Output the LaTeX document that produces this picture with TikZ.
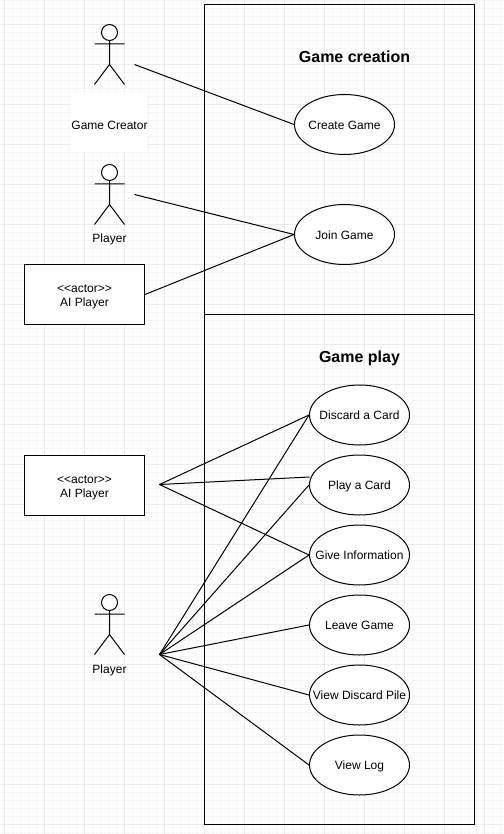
\documentclass[tikz,border=0pt]{standalone}
\usepackage{fontspec}
\setmainfont{Liberation Sans}
\usetikzlibrary{shapes.geometric}
\definecolor{gridminor}{HTML}{F6F6F6}
\definecolor{gridmajor}{HTML}{EBEBEB}
\tikzset{
  line/.style={draw=black,line width=0.75pt},
  usecase/.style={line,ellipse,fill=white,minimum width=75pt,minimum height=45pt,inner sep=0pt,font=\fontsize{9}{11}\selectfont},
  actorbox/.style={line,rectangle,fill=white,minimum width=90pt,minimum height=45pt,inner sep=0pt,align=center,font=\fontsize{9}{10.5}\selectfont},
  boundary/.style={line,rectangle,inner sep=0pt},
  title/.style={font=\fontsize{12}{14}\selectfont\bfseries,inner sep=0pt,text height=8.6pt,text depth=0pt},
  lbl/.style={font=\fontsize{9}{11}\selectfont,inner sep=0pt,text height=6.5pt,text depth=0pt},
  head/.style={line,circle,minimum size=12pt,inner sep=0pt,fill=white},
  conn/.style={line},
}
\newcommand{\uctext}[1]{\makebox[0pt]{\smash{\raisebox{-3.6pt}{#1}}}}
\newcommand{\stickman}[3]{% name, x, head y
  \node[head] (#1) at (#2,#3) {};
  \draw[line] (#1.south) -- (#2,#3+32)
     (#2-15,#3+11.5) -- (#2+15,#3+11.5)
     (#2-15,#3+52) -- (#2,#3+32) -- (#2+15,#3+52);
}
\begin{document}
\begin{tikzpicture}[x=0.75pt,y=-0.75pt]
\useasboundingbox (0,0) rectangle (503,834);
\fill[white] (0,0) rectangle (503,834);
% grid
\foreach \i in {0,...,62}{\draw[gridminor,line width=0.75pt] ({4.5+8*\i},0) -- ({4.5+8*\i},834);}
\foreach \i in {0,...,104}{\draw[gridminor,line width=0.75pt] (0,{0.5+8*\i}) -- (503,{0.5+8*\i});}
\foreach \i in {0,...,12}{\draw[gridmajor,line width=0.75pt] ({4.5+40*\i},0) -- ({4.5+40*\i},834);}
\foreach \i in {0,...,20}{\draw[gridmajor,line width=0.75pt] (0,{24.5+40*\i}) -- (503,{24.5+40*\i});}
% boundaries
\node[boundary,minimum width=202.5pt,minimum height=232.5pt] (creation) at (339.5,159.5) {};
\node[boundary,minimum width=202.5pt,minimum height=382.5pt] (play) at (339.5,569.5) {};
\node[title] (tcreation) at (354.5,56.5) {Game creation};
\node[title] (tplay) at (359.5,356.5) {Game play};
% actors
\stickman{mana}{109.5}{32.5}
\stickman{manb}{109.5}{172.5}
\stickman{manc}{109.5}{602.5}
\fill[white] (71,92) rectangle (147,152);
\node[lbl] (lcreator) at (109.5,125.6) {Game Creator};
\node[lbl] (lplayera) at (109.5,238.4) {Player};
\node[lbl] (lplayerb) at (109.5,669.5) {Player};
\node[actorbox] (aia) at (84.5,294.5) {\rule{0pt}{9.7pt}<{}<actor>{}>\\AI Player};
\node[actorbox] (aib) at (84.5,485) {\rule{0pt}{9.7pt}<{}<actor>{}>\\AI Player};
% use cases
\node[usecase] (create) at (344.5,124.5) {\uctext{Create Game}};
\node[usecase] (join) at (344.5,234.5) {\uctext{Join Game}};
\node[usecase] (discard) at (359.5,415) {\uctext{Discard a Card}};
\node[usecase] (playcard) at (359.5,485) {\uctext{Play a Card}};
\node[usecase] (give) at (359.5,555) {\uctext{Give Information}};
\node[usecase] (leave) at (359.5,625) {\uctext{Leave Game}};
\node[usecase] (viewpile) at (359.5,695) {\uctext{View Discard Pile}};
\node[usecase] (viewlog) at (359.5,765) {\uctext{View Log}};
% connector ends
\coordinate (creatorend) at (134.5,64.5);
\coordinate (playerend) at (134.5,194.5);
\coordinate (aihub) at (159.5,484.5);
\coordinate (playerhub) at (159.5,654.5);
\coordinate (playtop) at (309.5,477);
% connectors
\draw[conn] (creatorend) -- (create.west);
\draw[conn] (playerend) -- (join.west);
\draw[conn] (aia.east) -- (join.west);
\draw[conn] (aihub) -- (discard.west);
\draw[conn] (aihub) -- (playtop);
\draw[conn] (aihub) -- (give.west);
\draw[conn] (playerhub) -- (discard.west);
\draw[conn] (playerhub) -- (playcard.west);
\draw[conn] (playerhub) -- (give.west);
\draw[conn] (playerhub) -- (leave.west);
\draw[conn] (playerhub) -- (viewpile.west);
\draw[conn] (playerhub) -- (viewlog.west);
\end{tikzpicture}
\end{document}
